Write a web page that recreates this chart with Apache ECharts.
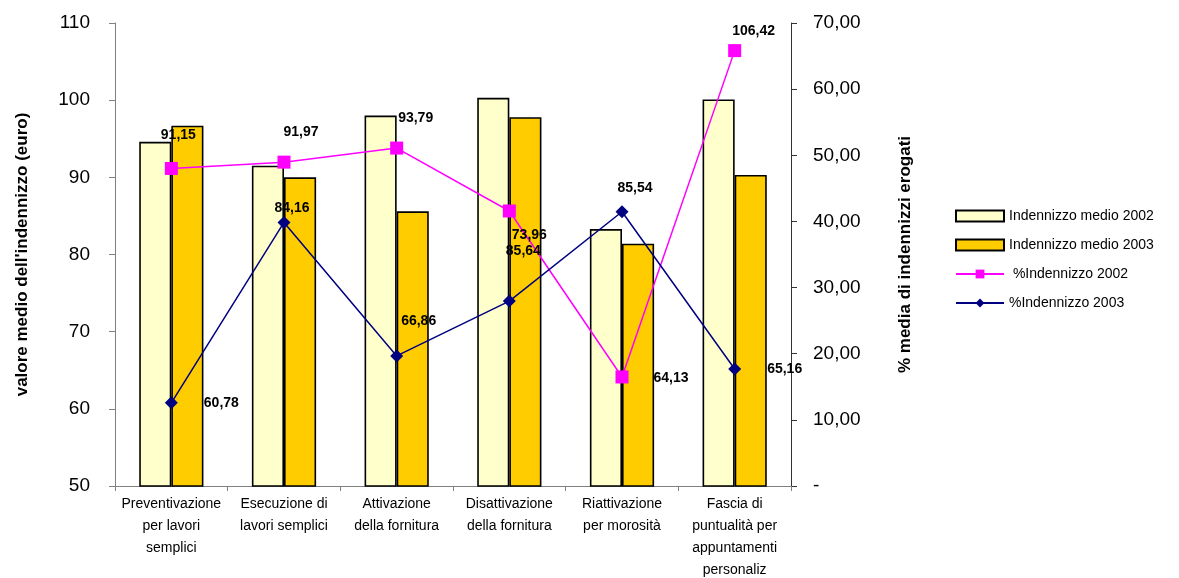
<!DOCTYPE html>
<html><head><meta charset="utf-8">
<script src="https://cdn.jsdelivr.net/npm/echarts@6/dist/echarts.min.js"></script>
<style>html,body{margin:0;padding:0;background:#fff}#c{width:1179px;height:578px}</style>
</head><body><div id="c"></div>
<script>
const categories = [
  "Preventivazione\nper lavori\nsemplici",
  "Esecuzione di\nlavori semplici",
  "Attivazione\ndella fornitura",
  "Disattivazione\ndella fornitura",
  "Riattivazione\nper morosità",
  "Fascia di\npuntualità per\nappuntamenti\npersonaliz"
];
const medio2002 = [94.6, 91.5, 98.0, 100.3, 83.3, 100.1];
const medio2003 = [96.7, 90.0, 85.6, 97.8, 81.4, 90.3];
const perc2002 = [91.15, 91.97, 93.79, 85.64, 64.13, 106.42];
const perc2003 = [60.78, 84.16, 66.86, 73.96, 85.54, 65.16];

// label offsets (styling only)
const off2002 = [[7,-33],[17,-30],[19,-30],[14,40],[49,1],[19,-19]];
const off2003 = [[50,0],[8,-14],[22,-35],[20,-66],[13,-24],[50,0]];

const fmt = v => v.toFixed(2).replace('.', ',');
const font = 'Liberation Sans, Arial, sans-serif';

function lineData(vals, offs) {
  return vals.map((v, i) => ({
    value: v,
    label: { show: true, position: 'inside', offset: offs[i], formatter: fmt(v) }
  }));
}

const chart = echarts.init(document.getElementById('c'), null, {renderer: 'canvas'});
chart.setOption({
  animation: false,
  backgroundColor: '#fff',
  textStyle: { fontFamily: font },
  grid: { left: 115, right: 388, top: 23, bottom: 92, containLabel: false, outerBoundsMode: 'none' },
  legend: {
    orient: 'vertical', left: 955, top: 209, padding: 0,
    itemWidth: 48, itemHeight: 11, itemGap: 15,
    textStyle: { fontSize: 14, color: '#000', fontFamily: font },
    data: [
      { name: 'Indennizzo medio 2002', icon: 'rect' },
      { name: 'Indennizzo medio 2003', icon: 'rect' },
      { name: ' %Indennizzo 2002' },
      { name: '%Indennizzo 2003' }
    ]
  },
  xAxis: {
    type: 'category', data: categories,
    axisLine: { lineStyle: { color: '#808080', width: 1 } },
    axisTick: { show: true, length: 5, lineStyle: { color: '#808080' } },
    axisLabel: { interval: 0, margin: 7, fontSize: 14, lineHeight: 22, color: '#000', fontFamily: font }
  },
  yAxis: [
    {
      type: 'value', min: 50, max: 110, interval: 10, position: 'left',
      name: "valore medio dell'indennizzo (euro)", nameLocation: 'middle', nameGap: 84, nameRotate: 90,
      nameTextStyle: { fontSize: 17, fontWeight: 'bold', color: '#000', fontFamily: font },
      axisLine: { show: true, lineStyle: { color: '#808080' } },
      axisTick: { show: true, length: 6, lineStyle: { color: '#808080' } },
      axisLabel: { fontSize: 19, color: '#000', margin: 25, fontFamily: font },
      splitLine: { show: false }
    },
    {
      type: 'value', min: 0, max: 70, interval: 10, position: 'right',
      name: '% media di indennizzi erogati', nameLocation: 'middle', nameGap: 106, nameRotate: 90,
      nameTextStyle: { fontSize: 17, fontWeight: 'bold', color: '#000', fontFamily: font },
      axisLine: { show: true, lineStyle: { color: '#333' } },
      axisTick: { show: true, length: 6, lineStyle: { color: '#333' } },
      axisLabel: { fontSize: 19, color: '#000', margin: 22, align: 'left', fontFamily: font,
        formatter: v => v === 0 ? '-' : fmt(v) },
      splitLine: { show: false }
    }
  ],
  series: [
    {
      name: 'Indennizzo medio 2002', type: 'bar', data: medio2002, yAxisIndex: 0,
      barGap: '0%', barCategoryGap: '43%',
      itemStyle: { color: '#FFFFCC', borderColor: '#000', borderWidth: 1.6 }
    },
    {
      name: 'Indennizzo medio 2003', type: 'bar', data: medio2003, yAxisIndex: 0,
      barGap: '0%', barCategoryGap: '43%',
      itemStyle: { color: '#FFCC00', borderColor: '#000', borderWidth: 1.6 }
    },
    {
      name: ' %Indennizzo 2002', type: 'line', yAxisIndex: 0, z: 5,
      data: lineData(perc2002, off2002),
      symbol: 'rect', symbolSize: 13,
      lineStyle: { color: '#FF00FF', width: 1.5 },
      itemStyle: { color: '#FF00FF' },
      label: { fontSize: 14, fontWeight: 'bold', color: '#000', fontFamily: font }
    },
    {
      name: '%Indennizzo 2003', type: 'line', yAxisIndex: 0, z: 6,
      data: lineData(perc2003, off2003),
      symbol: 'diamond', symbolSize: 13,
      lineStyle: { color: '#000080', width: 1.5 },
      itemStyle: { color: '#000080' },
      label: { fontSize: 14, fontWeight: 'bold', color: '#000', fontFamily: font }
    }
  ]
});
</script>
</body></html>
